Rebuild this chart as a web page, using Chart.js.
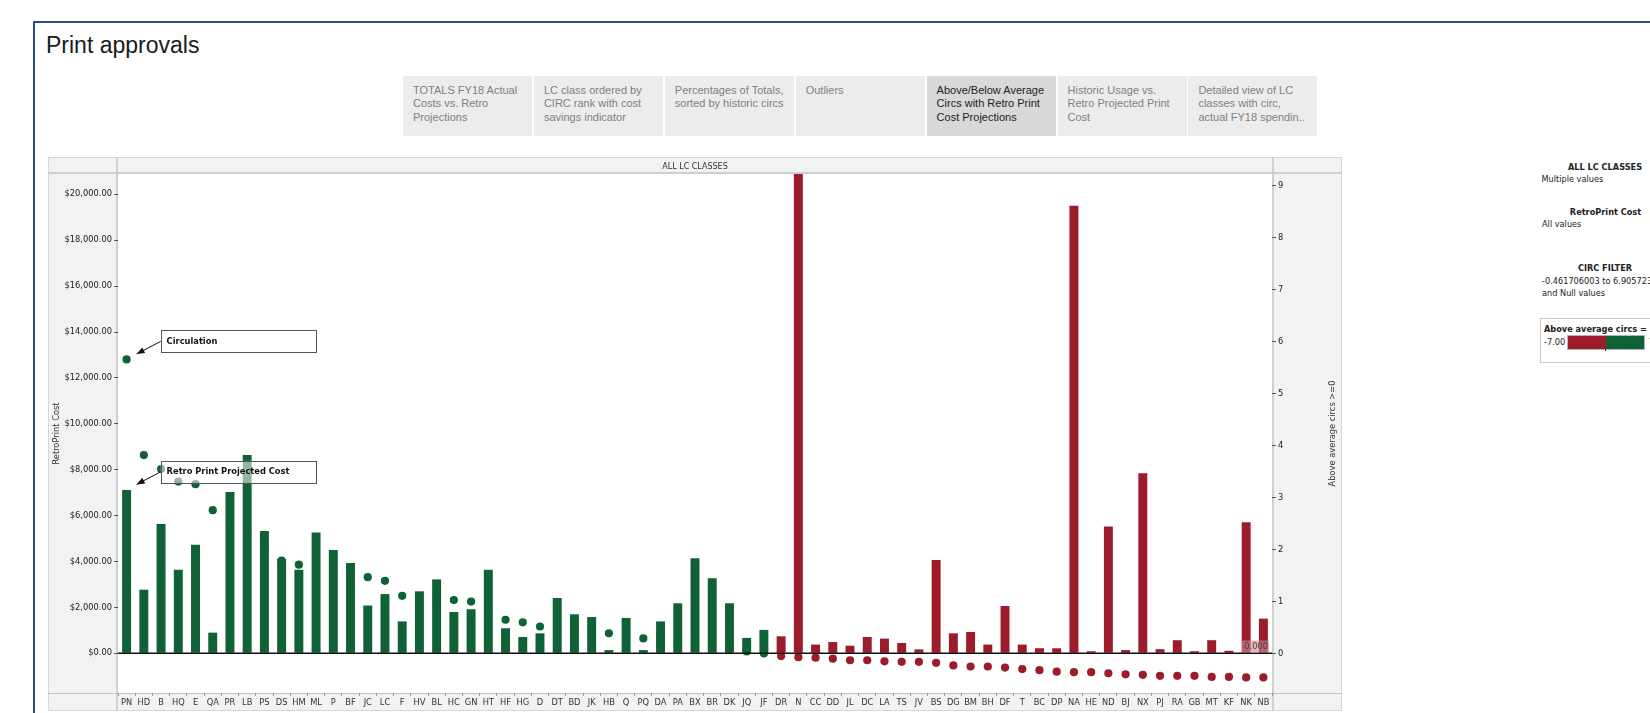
<!DOCTYPE html>
<html>
<head>
<meta charset="utf-8">
<title>Print approvals</title>
<script src="https://cdn.jsdelivr.net/npm/chart.js@4.4.1/dist/chart.umd.min.js"></script>
<style>
  html, body { margin: 0; padding: 0; background: #fff; width: 1650px; height: 713px; overflow: hidden; position: relative; }
  #frameTop { position: absolute; left: 33px; top: 21px; width: 1617px; height: 2px; background: #2c4b8a; }
  #frameLeft { position: absolute; left: 33px; top: 21px; width: 2px; height: 692px; background: #2c4b8a; }
  #title { position: absolute; left: 46px; top: 34px; font: 23px/23px "Liberation Sans", Arial, sans-serif; color: #1a1a1a; white-space: nowrap; }
  .tab { position: absolute; top: 76px; width: 129px; height: 60px; box-sizing: border-box; padding: 8px 4px 0 10px;
         background: #ececec; color: #808080; font: 11px/13.3px "Liberation Sans", Arial, sans-serif; white-space: nowrap; overflow: hidden; }
  .tab.sel { background: #d8d8d8; color: #222; }
  #wrap { position: absolute; left: 48px; top: 157px; width: 1294px; height: 556px; }
  .side { position: absolute; font: 8.2px/12px "DejaVu Sans", sans-serif; color: #222; white-space: nowrap; }
  .side.b { font-weight: bold; transform: translateX(-50%); }
  #legendBox { position: absolute; left: 1540px; top: 318px; width: 130px; height: 45px; box-sizing: border-box; border: 1px solid #c8c8c8; background: #fff; }
  #rampRed { position: absolute; left: 1568px; top: 336px; width: 38px; height: 13px; background: #9c1c2b; }
  #rampGreen { position: absolute; left: 1606px; top: 336px; width: 38px; height: 13px; background: #0f6136; }
  #rampFrame { position: absolute; left: 1567px; top: 335px; width: 78px; height: 15px; box-sizing: border-box; border: 1px solid #b5b5b5; }
  #rampTick { position: absolute; left: 1605px; top: 348px; width: 1px; height: 3px; background: #333; }
</style>
</head>
<body>
<div id="frameTop"></div>
<div id="frameLeft"></div>
<div id="title">Print approvals</div>
<div id="tabs"></div>

<div id="wrap"><canvas id="chart" width="1294" height="556"></canvas></div>

<div class="side b" style="left:1605px;top:160.5px;">ALL LC CLASSES</div>
<div class="side" style="left:1541.5px;top:173px;">Multiple values</div>
<div class="side b" style="left:1605.5px;top:205.5px;">RetroPrint Cost</div>
<div class="side" style="left:1542px;top:217.5px;">All values</div>
<div class="side b" style="left:1605px;top:262px;">CIRC FILTER</div>
<div class="side" style="left:1542px;top:274.5px;">-0.461706003 to 6.905723</div>
<div class="side" style="left:1542px;top:287px;">and Null values</div>
<div id="legendBox"></div>
<div class="side" style="left:1544px;top:322.5px;font-weight:bold;">Above average circs =</div>
<div class="side" style="left:1544px;top:336px;">-7.00</div>
<div id="rampRed"></div>
<div id="rampGreen"></div>
<div id="rampFrame"></div>
<div id="rampTick"></div>
<div class="side" style="left:1649px;top:336px;">7.00</div>

<script>
// Navigation tabs across the top of the dashboard
const tabTitles = [
  ["TOTALS FY18 Actual", "Costs vs. Retro", "Projections"],
  ["LC class ordered by", "CIRC rank with cost", "savings indicator"],
  ["Percentages of Totals,", "sorted by historic circs"],
  ["Outliers"],
  ["Above/Below Average", "Circs with Retro Print", "Cost Projections"],
  ["Historic Usage vs.", "Retro Projected Print", "Cost"],
  ["Detailed view of LC", "classes with circ,", "actual FY18 spendin.."]
];
const selectedTab = 4;

// LC classes, ordered by circulation
const categories = ["PN","HD","B","HQ","E","QA","PR","LB","PS","DS","HM","ML","P","BF","JC","LC","F","HV","BL","HC",
  "GN","HT","HF","HG","D","DT","BD","JK","HB","Q","PQ","DA","PA","BX","BR","DK","JQ","JF","DR","N",
  "CC","DD","JL","DC","LA","TS","JV","BS","DG","BM","BH","DF","T","BC","DP","NA","HE","ND","BJ","NX",
  "PJ","RA","GB","MT","KF","NK","NB"];

// Retro Print projected cost ($), left axis
const retroCost = [7120, 2770, 5630, 3640, 4730, 900, 7030, 8640, 5330, 4110, 3640, 5260, 4500, 3930, 2080, 2580, 1390, 2700, 3220, 1800,
  1920, 3640, 1090, 710, 870, 2410, 1700, 1580, 140, 1540, 140, 1390, 2180, 4140, 3270, 2180, 670, 1020, 740, 23500,
  380, 490, 330, 710, 640, 450, 170, 4070, 870, 930, 380, 2060, 380, 220, 220, 19500, 90, 5520, 140, 7840,
  180, 570, 90, 570, 110, 5710, 1510];

// Circulation relative to average ("Above average circs >=0"), right axis
const circs = [5.66, 3.82, 3.55, 3.31, 3.26, 2.76, 2.55, 2.30, 2.05, 1.79, 1.71, 1.64, 1.58, 1.52, 1.47, 1.40, 1.11, 1.08, 1.05, 1.03,
  1.00, 0.80, 0.65, 0.60, 0.52, 0.48, 0.45, 0.42, 0.39, 0.34, 0.29, 0.25, 0.21, 0.17, 0.13, 0.09, 0.04, 0.00, -0.05, -0.07,
  -0.08, -0.10, -0.13, -0.13, -0.15, -0.16, -0.16, -0.18, -0.23, -0.25, -0.25, -0.27, -0.30, -0.32, -0.35, -0.36, -0.36, -0.38, -0.40, -0.41,
  -0.43, -0.43, -0.43, -0.45, -0.45, -0.46, -0.46];

const costTicks = [0, 2000, 4000, 6000, 8000, 10000, 12000, 14000, 16000, 18000, 20000];
const circTicks = [0, 1, 2, 3, 4, 5, 6, 7, 8, 9];
const costRange = [-1730, 20885];
const circRange = [-0.76, 9.23];
const referenceValue = 0;

const GREEN = '#0f6136';
const RED = '#9c1c2b';
const TXT = "DejaVu Sans";

// build tabs
const tabHost = document.getElementById('tabs');
tabTitles.forEach((lines, i) => {
  const d = document.createElement('div');
  d.className = 'tab' + (i === selectedTab ? ' sel' : '');
  d.style.left = (403 + i * 130.9) + 'px';
  d.innerHTML = lines.join('<br>');
  tabHost.appendChild(d);
});

const markColors = circs.map(c => c >= 0 ? GREEN : RED);

function arrow(ctx, x1, y1, x2, y2) {
  ctx.save();
  ctx.strokeStyle = '#111';
  ctx.fillStyle = '#111';
  ctx.lineWidth = 1;
  ctx.beginPath();
  ctx.moveTo(x1, y1);
  ctx.lineTo(x2, y2);
  ctx.stroke();
  const ang = Math.atan2(y2 - y1, x2 - x1);
  const len = 8, half = 3.2;
  ctx.beginPath();
  ctx.moveTo(x2, y2);
  ctx.lineTo(x2 - len * Math.cos(ang) + half * Math.sin(ang), y2 - len * Math.sin(ang) - half * Math.cos(ang));
  ctx.lineTo(x2 - len * Math.cos(ang) - half * Math.sin(ang), y2 - len * Math.sin(ang) + half * Math.cos(ang));
  ctx.closePath();
  ctx.fill();
  ctx.restore();
}

function callout(ctx, anchor, text) {
  const bx = anchor.x + 34, by = anchor.y - 29, bw = 155, bh = 22;
  ctx.save();
  ctx.fillStyle = 'rgba(255,255,255,0.55)';
  ctx.fillRect(bx, by, bw, bh);
  ctx.strokeStyle = '#555';
  ctx.lineWidth = 1;
  ctx.strokeRect(Math.round(bx) + 0.5, Math.round(by) + 0.5, bw, bh);
  ctx.fillStyle = '#111';
  ctx.font = 'bold 8.3px "' + TXT + '"';
  ctx.textBaseline = 'middle';
  ctx.fillText(text, bx + 6, by + 11);
  ctx.restore();
  arrow(ctx, bx, anchor.y - 18, anchor.x + 10, anchor.y - 5.5);
}

const panelPlugin = {
  id: 'panel',
  beforeDraw(chart) {
    const { ctx, chartArea: a, width: W, height: H } = chart;
    const bottom = H - 2;
    ctx.save();
    ctx.fillStyle = '#f1f2f2';
    ctx.fillRect(0, 0, W, bottom);
    ctx.fillStyle = '#ffffff';
    ctx.fillRect(a.left, a.top, a.right - a.left, a.bottom - a.top);
    // pane borders
    ctx.strokeStyle = '#d6d6d6';
    ctx.lineWidth = 1;
    ctx.strokeRect(0.5, 0.5, W - 1, bottom - 1);
    ctx.strokeStyle = '#cfcfcf';
    ctx.lineWidth = 2;
    ctx.beginPath();
    ctx.moveTo(a.left - 1, 0); ctx.lineTo(a.left - 1, bottom);
    ctx.moveTo(a.right + 1, 0); ctx.lineTo(a.right + 1, bottom);
    ctx.moveTo(0, a.top - 1); ctx.lineTo(W, a.top - 1);
    ctx.stroke();
    ctx.lineWidth = 1;
    ctx.strokeStyle = '#c4c4c4';
    ctx.beginPath();
    ctx.moveTo(0, a.bottom + 0.5); ctx.lineTo(W, a.bottom + 0.5);
    ctx.stroke();
    // header
    ctx.fillStyle = '#333';
    ctx.font = '8px "' + TXT + '"';
    ctx.textAlign = 'center';
    ctx.textBaseline = 'middle';
    ctx.fillText('ALL LC CLASSES', (a.left + a.right) / 2, 9.5);
    // axis titles
    const midY = (a.top + a.bottom) / 2;
    ctx.font = '8.3px "' + TXT + '"';
    [[9, 'RetroPrint Cost'], [a.right + 61, 'Above average circs >=0']].forEach(([x, t]) => {
      ctx.save();
      ctx.translate(x, midY);
      ctx.rotate(-Math.PI / 2);
      ctx.fillText(t, 0, 0);
      ctx.restore();
    });
    ctx.restore();
  },
  afterDatasetsDraw(chart) {
    const { ctx, chartArea: a, scales } = chart;
    ctx.save();
    // zero baseline
    const y0 = scales.y.getPixelForValue(0);
    ctx.strokeStyle = '#111';
    ctx.lineWidth = 1.6;
    ctx.beginPath();
    ctx.moveTo(a.left, y0);
    ctx.lineTo(a.right, y0);
    ctx.stroke();
    // reference value tag on the circulation axis
    const yr = scales.y1.getPixelForValue(referenceValue);
    ctx.fillStyle = 'rgba(212,140,152,0.62)';
    ctx.fillRect(a.right - 30, yr - 13, 27, 12);
    ctx.fillStyle = '#444';
    ctx.font = '8.3px "' + TXT + '"';
    ctx.textAlign = 'right';
    ctx.textBaseline = 'middle';
    ctx.fillText(referenceValue.toFixed(3), a.right - 4, yr - 7);
    ctx.restore();
    // callouts for the first class
    const dot = chart.getDatasetMeta(0).data[0];
    const bar = chart.getDatasetMeta(1).data[0];
    callout(ctx, { x: dot.x, y: dot.y }, chart.data.datasets[0].label);
    callout(ctx, { x: bar.x, y: bar.y }, chart.data.datasets[1].label);
  }
};

const tickFont = { family: TXT, size: 8.3 };

new Chart(document.getElementById('chart').getContext('2d'), {
  type: 'bar',
  data: {
    labels: categories,
    datasets: [
      {
        type: 'line',
        label: 'Circulation',
        data: circs,
        yAxisID: 'y1',
        showLine: false,
        pointRadius: 4.1,
        pointHoverRadius: 4.1,
        pointBorderWidth: 0,
        pointBackgroundColor: markColors,
        order: 1
      },
      {
        type: 'bar',
        label: 'Retro Print Projected Cost',
        data: retroCost,
        yAxisID: 'y',
        backgroundColor: markColors,
        borderWidth: 0,
        barPercentage: 0.52,
        categoryPercentage: 1,
        order: 0
      }
    ]
  },
  options: {
    responsive: false,
    animation: false,
    devicePixelRatio: 1,
    layout: { padding: { top: 17, bottom: 2, left: 0, right: 0 } },
    plugins: { legend: { display: false }, tooltip: { enabled: false } },
    scales: {
      x: {
        offset: true,
        grid: { offset: true, drawOnChartArea: false, tickLength: 3, color: '#9a9a9a' },
        border: { display: false },
        ticks: { autoSkip: false, maxRotation: 0, minRotation: 0, padding: 2, color: '#333', font: tickFont },
        afterFit(s) { s.height = 18; }
      },
      y: {
        position: 'left',
        min: costRange[0],
        max: costRange[1],
        afterBuildTicks(s) { s.ticks = costTicks.map(v => ({ value: v })); },
        grid: { drawOnChartArea: false, tickLength: 4, color: '#555' },
        border: { display: false },
        ticks: {
          padding: 2, color: '#222', font: tickFont,
          callback: v => '$' + Number(v).toLocaleString('en-US', { minimumFractionDigits: 2, maximumFractionDigits: 2 })
        },
        afterFit(s) { s.width = 70; }
      },
      y1: {
        position: 'right',
        min: circRange[0],
        max: circRange[1],
        afterBuildTicks(s) { s.ticks = circTicks.map(v => ({ value: v })); },
        grid: { drawOnChartArea: false, tickLength: 4, color: '#555' },
        border: { display: false },
        ticks: { padding: 2, color: '#222', font: tickFont, callback: v => String(v) },
        afterFit(s) { s.width = 70; }
      }
    }
  },
  plugins: [panelPlugin]
});
</script>
</body>
</html>
